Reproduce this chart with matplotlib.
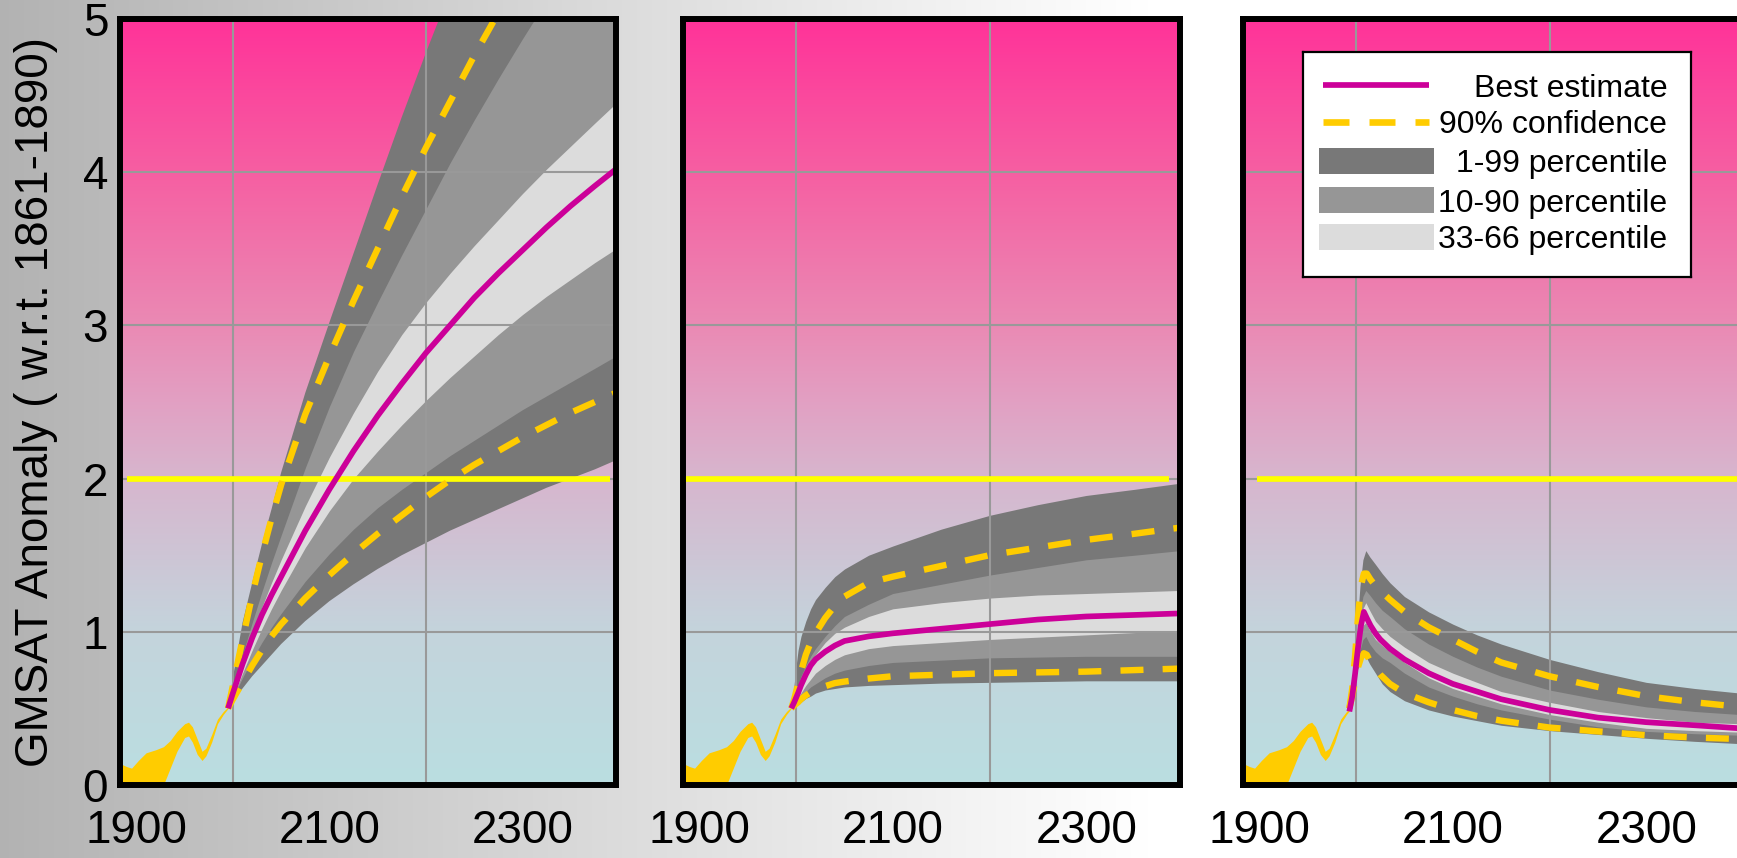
import numpy as np
import matplotlib.pyplot as plt
from matplotlib.patches import Rectangle

plt.rcParams['font.family'] = ['Liberation Sans', 'DejaVu Sans']

# observed record (same in every panel)
hist_years = [1883, 1890, 1895, 1902, 1910, 1920, 1928, 1935, 1942, 1950,
              1954, 1958, 1963, 1968, 1972, 1978, 1984, 1990, 1995]
hist_upper = [0.14, 0.12, 0.11, 0.16, 0.21, 0.23, 0.25, 0.29, 0.35, 0.40,
              0.41, 0.38, 0.30, 0.22, 0.24, 0.33, 0.43, 0.48, 0.51]
hist_lower = [-0.4, -0.3, -0.25, -0.18, -0.1, -0.03, 0.0, 0.11, 0.22, 0.31,
              0.32, 0.28, 0.20, 0.16, 0.19, 0.28, 0.40, 0.46, 0.50]

threshold = 2.0
threshold_start = [1890, 1886, 1897]
threshold_end = [2391, 2386, 2397]

# panel 1
p1_years = [1995, 2000, 2010, 2020, 2030, 2040, 2050, 2075, 2100, 2125, 2150,
            2175, 2200, 2225, 2250, 2275, 2300, 2325, 2350, 2375, 2397]
p1_best = [0.5, 0.6, 0.79, 0.96, 1.11, 1.24, 1.36, 1.66, 1.93, 2.18, 2.41,
           2.62, 2.82, 3.0, 3.18, 3.34, 3.49, 3.64, 3.78, 3.91, 4.02]
p1_conf_hi = [0.5, 0.65, 0.95, 1.24, 1.5, 1.74, 1.96, 2.42, 2.8, 3.16, 3.5,
              3.84, 4.16, 4.46, 4.76, 5.04, 5.3, 5.55, 5.8, 6.03, 6.24]
p1_conf_lo = [0.5, 0.56, 0.67, 0.78, 0.88, 0.97, 1.05, 1.22, 1.37, 1.51, 1.64,
              1.76, 1.88, 1.99, 2.09, 2.18, 2.27, 2.35, 2.43, 2.5, 2.56]
p1_p99 = [0.5, 0.7, 1.06, 1.32, 1.57, 1.8, 2.04, 2.56, 3.02, 3.47, 3.92,
          4.36, 4.78, 5.18, 5.52, 5.85, 6.16, 6.46, 6.76, 7.05, 7.3]
p1_p90 = [0.5, 0.62, 0.85, 1.06, 1.26, 1.45, 1.63, 2.07, 2.47, 2.83, 3.15,
          3.46, 3.76, 4.06, 4.34, 4.61, 4.87, 5.12, 5.36, 5.58, 5.78]
p1_p66 = [0.5, 0.62, 0.82, 1.0, 1.16, 1.32, 1.47, 1.82, 2.14, 2.43, 2.7,
          2.94, 3.15, 3.34, 3.52, 3.69, 3.86, 4.02, 4.17, 4.32, 4.45]
p1_p33 = [0.5, 0.57, 0.73, 0.88, 1.02, 1.15, 1.27, 1.55, 1.79, 2.0, 2.18,
          2.35, 2.51, 2.66, 2.8, 2.94, 3.07, 3.19, 3.3, 3.41, 3.5]
p1_p10 = [0.5, 0.57, 0.7, 0.82, 0.93, 1.03, 1.12, 1.33, 1.51, 1.67, 1.81,
          1.93, 2.04, 2.15, 2.25, 2.35, 2.45, 2.54, 2.63, 2.72, 2.8]
p1_p1 = [0.5, 0.55, 0.63, 0.71, 0.78, 0.85, 0.92, 1.07, 1.2, 1.31, 1.41,
         1.5, 1.58, 1.66, 1.73, 1.8, 1.87, 1.94, 2.0, 2.06, 2.12]

# panel 2
p2_years = [1995, 1998, 2000, 2002, 2005, 2010, 2015, 2020, 2030, 2040, 2050,
            2075, 2100, 2150, 2200, 2250, 2300, 2350, 2397]
p2_best = [0.5, 0.54, 0.57, 0.6, 0.65, 0.72, 0.78, 0.82, 0.87, 0.91, 0.94,
           0.97, 0.99, 1.02, 1.05, 1.08, 1.1, 1.11, 1.12]
p2_conf_hi = [0.5, 0.56, 0.61, 0.66, 0.74, 0.85, 0.93, 0.99, 1.09, 1.17, 1.23,
              1.32, 1.36, 1.43, 1.5, 1.55, 1.6, 1.64, 1.68]
p2_conf_lo = [0.5, 0.52, 0.53, 0.54, 0.56, 0.585, 0.605, 0.62, 0.645, 0.665, 0.675,
              0.695, 0.71, 0.72, 0.73, 0.735, 0.74, 0.75, 0.76]
p2_p99 = [0.5, 0.66, 0.78, 0.88, 0.97, 1.07, 1.15, 1.21, 1.29, 1.36, 1.41,
          1.5, 1.56, 1.67, 1.76, 1.83, 1.89, 1.93, 1.97]
p2_p90 = [0.5, 0.56, 0.61, 0.65, 0.71, 0.78, 0.84, 0.89, 0.97, 1.04, 1.1,
          1.18, 1.25, 1.31, 1.37, 1.42, 1.47, 1.5, 1.53]
p2_p66 = [0.5, 0.55, 0.58, 0.62, 0.67, 0.74, 0.8, 0.85, 0.93, 0.99, 1.03,
          1.1, 1.15, 1.19, 1.22, 1.24, 1.25, 1.26, 1.27]
p2_p33 = [0.5, 0.53, 0.55, 0.57, 0.6, 0.65, 0.69, 0.73, 0.78, 0.82, 0.85,
          0.89, 0.91, 0.93, 0.95, 0.965, 0.98, 0.995, 1.01]
p2_p10 = [0.5, 0.52, 0.54, 0.55, 0.57, 0.61, 0.64, 0.66, 0.7, 0.73, 0.75,
          0.78, 0.8, 0.815, 0.83, 0.835, 0.84, 0.84, 0.84]
p2_p1 = [0.5, 0.51, 0.52, 0.53, 0.54, 0.565, 0.58, 0.6, 0.62, 0.63, 0.64,
         0.65, 0.655, 0.665, 0.67, 0.675, 0.68, 0.68, 0.68]

# panel 3
p3_years = [1993, 1996, 1999, 2002, 2005, 2008, 2011, 2015, 2020, 2025, 2035,
            2050, 2075, 2100, 2125, 2150, 2200, 2250, 2300, 2350, 2397]
p3_best = [0.48, 0.58, 0.73, 0.9, 1.04, 1.13, 1.09, 1.04, 0.99, 0.95, 0.89,
           0.82, 0.73, 0.66, 0.61, 0.56, 0.49, 0.44, 0.41, 0.39, 0.37]
p3_conf_hi = [0.5, 0.63, 0.85, 1.1, 1.3, 1.38, 1.38, 1.34, 1.3, 1.27, 1.21,
              1.13, 1.03, 0.95, 0.87, 0.8, 0.71, 0.64, 0.58, 0.54, 0.51]
p3_conf_lo = [0.5, 0.58, 0.68, 0.77, 0.83, 0.86, 0.85, 0.8, 0.76, 0.72, 0.66,
              0.6, 0.54, 0.49, 0.45, 0.42, 0.375, 0.35, 0.325, 0.31, 0.30]
p3_band_years = [2001, 2004, 2007, 2010, 2014, 2020, 2027, 2035, 2050, 2075,
                 2100, 2125, 2150, 2200, 2250, 2300, 2350, 2397]
p3_p99 = [1.05, 1.3, 1.47, 1.53, 1.49, 1.44, 1.38, 1.32, 1.23, 1.13,
          1.05, 0.98, 0.92, 0.82, 0.74, 0.67, 0.63, 0.60]
p3_p90 = [0.95, 1.12, 1.23, 1.27, 1.24, 1.19, 1.14, 1.1, 1.02, 0.92,
          0.84, 0.77, 0.71, 0.62, 0.56, 0.51, 0.48, 0.46]
p3_p66 = [0.9, 1.05, 1.15, 1.19, 1.14, 1.07, 1.02, 0.97, 0.9, 0.8,
          0.73, 0.67, 0.61, 0.54, 0.48, 0.44, 0.41, 0.40]
p3_p33 = [0.85, 0.97, 1.04, 1.06, 1.01, 0.95, 0.91, 0.87, 0.8, 0.7,
          0.63, 0.58, 0.53, 0.46, 0.41, 0.37, 0.355, 0.345]
p3_p10 = [0.8, 0.88, 0.95, 0.97, 0.92, 0.87, 0.83, 0.8, 0.73, 0.64,
          0.58, 0.53, 0.49, 0.43, 0.38, 0.35, 0.335, 0.325]
p3_p1 = [0.75, 0.79, 0.83, 0.84, 0.79, 0.73, 0.66, 0.61, 0.55, 0.49,
         0.45, 0.42, 0.39, 0.355, 0.33, 0.305, 0.285, 0.27]

xlim = (1883, 2397)
x_ticks = [1900, 2100, 2300]
grid_years = [2000, 2100, 2200, 2300]
y_ticks = [0, 1, 2, 3, 4, 5]

DARK, MID, LIGHT = '#787878', '#969696', '#dcdcdc'
MAGENTA, GOLD, YELLOW = '#cc0099', '#ffcc00', '#ffff00'
GRID = '#999999'

fig = plt.figure(figsize=(17.37, 8.58), dpi=100)

# grey-to-white page background
bg = fig.add_axes([0, 0, 1, 1], zorder=-5)
xs = np.linspace(0, 1, 600)
shade = np.clip(0.70 + 0.30 * xs / 0.66, 0, 1)
bg.imshow(np.repeat(shade[None, :, None], 3, axis=2), aspect='auto',
          extent=(0, 1, 0, 1), interpolation='bilinear')
bg.axis('off')

# pink-to-cyan plot background
vals = np.linspace(0, 5, 300)
stop_v = [0, 1, 2, 2.5, 3, 4, 5]
stop_c = np.array([(186, 222, 225), (196, 212, 220), (215, 182, 206),
                   (226, 160, 195), (234, 138, 180), (246, 95, 162),
                   (255, 51, 153)]) / 255
sky = np.stack([np.interp(vals, stop_v, stop_c[:, i]) for i in range(3)], axis=1)
sky = sky[:, None, :]


def draw_panel(ax, k, years, best, hi, lo, band_years, bands):
    ax.imshow(sky, origin='lower', aspect='auto', extent=(xlim[0], xlim[1], 0, 5),
              interpolation='bilinear', zorder=0)
    ax.fill_between(hist_years, hist_lower, hist_upper, color=GOLD, lw=0, zorder=1.8)
    p1, p10, p33, p66, p90, p99 = bands
    ax.fill_between(band_years, p1, p99, color=DARK, lw=0, zorder=2)
    ax.fill_between(band_years, p10, p90, color=MID, lw=0, zorder=2.1)
    ax.fill_between(band_years, p33, p66, color=LIGHT, lw=0, zorder=2.2)
    ax.hlines(threshold, threshold_start[k], threshold_end[k], color=YELLOW,
              lw=4.1, zorder=3.1)
    for c in (hi, lo):
        ax.plot(years, c, color=GOLD, lw=4.6, dashes=(3.6, 3.0),
                dash_capstyle='butt', zorder=3.2)
    ax.plot(years, best, color=MAGENTA, lw=4.1, solid_capstyle='butt', zorder=3.3)

    ax.set_xlim(*xlim)
    ax.set_ylim(0, 5)
    ax.set_xticks(x_ticks)
    ax.set_xticks(grid_years, minor=True)
    ax.set_yticks(y_ticks)
    ax.set_axisbelow(False)
    ax.xaxis.grid(False, which='major')
    ax.xaxis.grid(True, which='minor', color=GRID, lw=1.5)
    ax.yaxis.grid(True, which='major', color=GRID, lw=1.5)
    ax.tick_params(which='both', length=0, labelsize=33)
    ax.tick_params(axis='x', which='major', pad=17)
    ax.tick_params(axis='y', which='major', pad=8.5)
    if k > 0:
        ax.tick_params(axis='y', labelleft=False)
    for sp in ax.spines.values():
        sp.set_linewidth(4.3)
        sp.set_color('black')
        sp.set_zorder(5)


bottom, height = 1 - 785 / 858, 766 / 858
ax1 = fig.add_axes([120 / 1737, bottom, 496 / 1737, height])
ax2 = fig.add_axes([683 / 1737, bottom, 497 / 1737, height])
ax3 = fig.add_axes([1243 / 1737, bottom, 497 / 1737, height])

draw_panel(ax1, 0, p1_years, p1_best, p1_conf_hi, p1_conf_lo, p1_years,
           (p1_p1, p1_p10, p1_p33, p1_p66, p1_p90, p1_p99))
draw_panel(ax2, 1, p2_years, p2_best, p2_conf_hi, p2_conf_lo, p2_years,
           (p2_p1, p2_p10, p2_p33, p2_p66, p2_p90, p2_p99))
draw_panel(ax3, 2, p3_years, p3_best, p3_conf_hi, p3_conf_lo, p3_band_years,
           (p3_p1, p3_p10, p3_p33, p3_p66, p3_p90, p3_p99))

ax1.set_ylabel('GMSAT Anomaly ( w.r.t. 1861-1890)', fontsize=33, va='baseline')
ax1.yaxis.set_label_coords(-0.145, 0.5)

# legend box drawn by hand so the labels can sit right-aligned
leg = fig.add_axes([1303 / 1737, 1 - 277 / 858, 388 / 1737, 225 / 858], zorder=5)
leg.set_xlim(0, 1)
leg.set_ylim(0, 1)
leg.set_xticks([])
leg.set_yticks([])
leg.set_facecolor('white')
for sp in leg.spines.values():
    sp.set_linewidth(1.6)
    sp.set_color('black')

rows = [0.853, 0.689, 0.516, 0.342, 0.178]
labels = ['Best estimate', '90% confidence', '1-99 percentile',
          '10-90 percentile', '33-66 percentile']
leg.plot([0.052, 0.325], [rows[0]] * 2, color=MAGENTA, lw=4.1, solid_capstyle='butt')
leg.plot([0.052, 0.325], [rows[1]] * 2, color=GOLD, lw=4.8, dashes=(3.9, 3.0),
         dash_capstyle='butt')
for r, c in zip(rows[2:], [DARK, MID, LIGHT]):
    leg.add_patch(Rectangle((0.042, r - 0.058), 0.296, 0.116, color=c, lw=0))
for r, t in zip(rows, labels):
    leg.text(0.939, r - 0.051, t, ha='right', va='baseline', fontsize=23)

fig.savefig('out.png', dpi=100)
